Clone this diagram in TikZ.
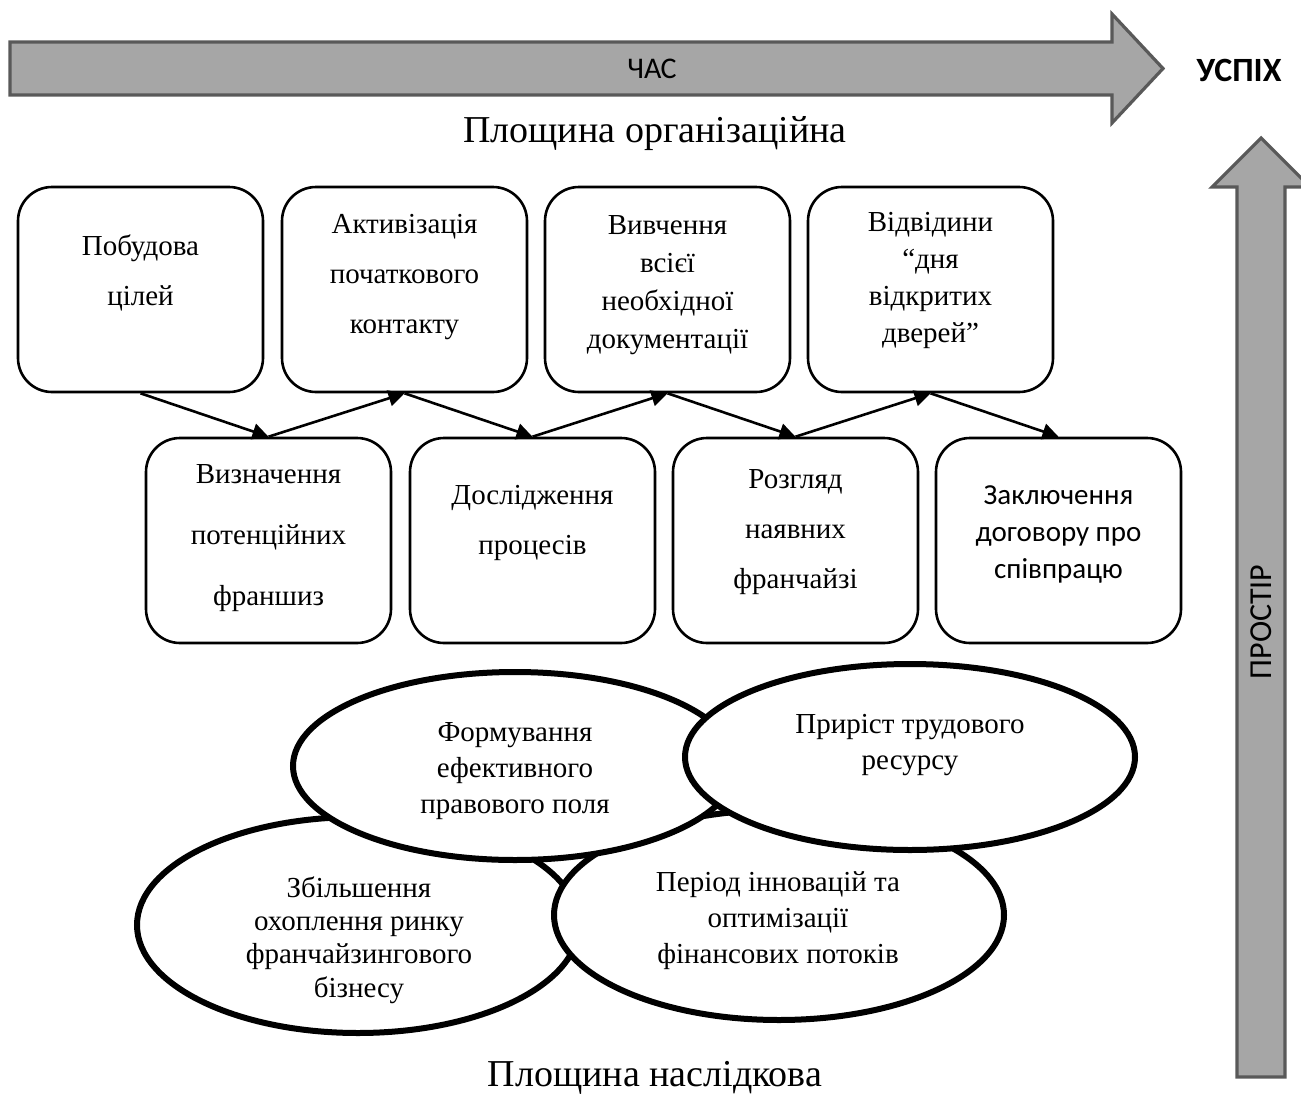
\documentclass[tikz,border=0pt]{standalone}
\usepackage{fontspec}
\setmainfont{Liberation Serif}
\newfontfamily\calibri{Carlito}
\usetikzlibrary{arrows.meta}

\definecolor{arrowfill}{HTML}{A6A6A6}
\definecolor{arrowedge}{HTML}{595959}

\tikzset{
  bigarrow/.style={fill=arrowfill, draw=arrowedge, line width=1.6pt, line join=miter},
  stepbox/.style={draw, line width=1.3pt, rounded corners=17pt,
    minimum width=122.5pt, minimum height=102.5pt, inner sep=0pt},
  boxtxt/.style={align=center, inner sep=0pt},
  link/.style={line width=1.3pt, -{Triangle[length=8pt,width=8pt]}},
  oval/.style={draw, fill=white, line width=3pt},
  ovaltxt/.style={align=center, inner sep=0pt},
  planetxt/.style={font=\fontsize{19}{22}\selectfont, inner sep=0pt},
  axistxt/.style={font=\calibri\fontsize{15}{18}\selectfont, inner sep=0pt}
}

\begin{document}
\begin{tikzpicture}[x=0.5pt, y=-0.5pt]
\useasboundingbox (0,0) rectangle (1301,1103);
\clip (0,0) rectangle (1301,1103);

% time axis
\draw[bigarrow] (10,42) -- (1112,42) -- (1112,14) -- (1163,68.5) -- (1112,123)
  -- (1112,95) -- (10,95) -- cycle;
\node[axistxt] (time) at (652,68.5) {ЧАС};
\node[font=\calibri\bfseries\fontsize{17}{20}\selectfont, inner sep=0pt] (success) at (1239,70) {УСПІХ};

% space axis
\draw[bigarrow] (1237,1077) -- (1237,187) -- (1212,187) -- (1261,138) -- (1310,187)
  -- (1285,187) -- (1285,1077) -- cycle;
\node[axistxt, font=\calibri\fontsize{16}{19}\selectfont, rotate=90] (space) at (1261,622) {ПРОСТІР};

% plane titles
\node[planetxt] (orgplane) at (655,134) {Площина організаційна};
\node[planetxt] (resplane) at (655,1078) {Площина наслідкова};

% upper row of steps
\node[stepbox] (b1) at (140.5,289.5) {};
\node[stepbox] (b2) at (404.5,289.5) {};
\node[stepbox] (b3) at (667.5,289.5) {};
\node[stepbox] (b4) at (930.5,289.5) {};
% lower row of steps
\node[stepbox] (b5) at (268.5,540.5) {};
\node[stepbox] (b6) at (532.5,540.5) {};
\node[stepbox] (b7) at (795.5,540.5) {};
\node[stepbox] (b8) at (1058.5,540.5) {};

\node[boxtxt, font=\fontsize{14.5}{25}\selectfont] (t1) at (140.5,272.5) {Побудова\\цілей};
\node[boxtxt, font=\fontsize{14.5}{25}\selectfont] (t2) at (404.5,277.5) {Активізація\\початкового\\контакту};
\node[boxtxt, font=\fontsize{14.5}{19}\selectfont] (t3) at (667.5,285) {Вивчення\\всієї\\необхідної\\документації};
\node[boxtxt, font=\fontsize{14.5}{18.5}\selectfont] (t4) at (930.5,280) {Відвідини\\“дня\\відкритих\\дверей”};
\node[boxtxt, font=\fontsize{14.5}{30.5}\selectfont] (t5) at (268.5,538.5) {Визначення\\потенційних\\франшиз};
\node[boxtxt, font=\fontsize{14.5}{25}\selectfont] (t6) at (532.5,523) {Дослідження\\процесів};
\node[boxtxt, font=\fontsize{14.5}{25}\selectfont] (t7) at (795.5,532.5) {Розгляд\\наявних\\франчайзі};
\node[boxtxt, font=\calibri\fontsize{14.5}{18.7}\selectfont] (t8) at (1058.5,534.5) {Заключення\\договору про\\співпрацю};

% zig-zag sequence
\draw[link] (b1.south) -- (b5.north);
\draw[link] (b5.north) -- (b2.south);
\draw[link] (b2.south) -- (b6.north);
\draw[link] (b6.north) -- (b3.south);
\draw[link] (b3.south) -- (b7.north);
\draw[link] (b7.north) -- (b4.south);
\draw[link] (b4.south) -- (b8.north);

% results
\draw[oval] (358,925) ellipse [x radius=221, y radius=108];
\draw[oval] (779,915) ellipse [x radius=225, y radius=105];
\draw[oval] (515,766) ellipse [x radius=222, y radius=94];
\draw[oval] (910,757) ellipse [x radius=225, y radius=93];

\node[ovaltxt, font=\fontsize{14.5}{16.7}\selectfont] (e1) at (359,940) {Збільшення\\охоплення ринку\\франчайзингового\\бізнесу};
\node[ovaltxt, font=\fontsize{14.5}{18}\selectfont] (e2) at (778,921) {Період інновацій та\\оптимізації\\фінансових потоків};
\node[ovaltxt, font=\fontsize{14.5}{18}\selectfont] (e3) at (515,771) {Формування\\ефективного\\правового поля};
\node[ovaltxt, font=\fontsize{14.5}{18}\selectfont] (e4) at (910,745) {Приріст трудового\\ресурсу};
\end{tikzpicture}
\end{document}
